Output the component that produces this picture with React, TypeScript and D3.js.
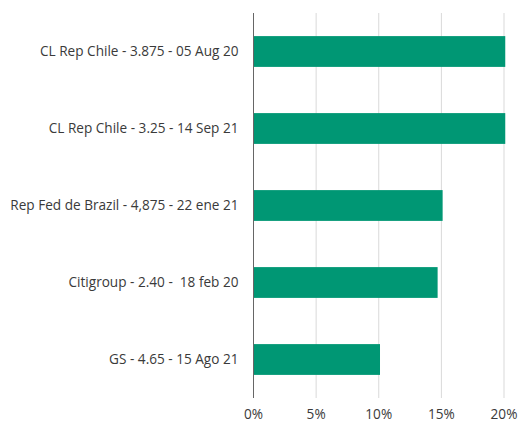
import * as d3 from "d3";

const labels = [
  "CL Rep Chile - 3.875 - 05 Aug 20",
  "CL Rep Chile - 3.25 - 14 Sep 21",
  "Rep Fed de Brazil - 4,875 - 22 ene 21",
  "Citigroup - 2.40 -  18 feb 20",
  "GS - 4.65 - 15 Ago 21",
];
const values = [20.1, 20.1, 15.1, 14.7, 10.1];
const ticks = [0, 5, 10, 15, 20];

const width = 519;
const height = 424;
const margin = { top: 13, right: 15, bottom: 26, left: 253.5 };
const font = "'Open Sans', sans-serif";

export default function App() {
  const x = d3.scaleLinear()
    .domain([0, 20])
    .range([margin.left, width - margin.right]);

  const y = d3.scaleBand()
    .domain(labels)
    .range([margin.top, height - margin.bottom])
    .paddingInner(0.6)
    .paddingOuter(0.3);

  return (
    <svg
      width={width}
      height={height}
      style={{ position: "absolute", left: 0, top: 0, background: "#fff" }}
    >
      {ticks.slice(1).map(t => (
        <line key={t} x1={x(t)} x2={x(t)} y1={margin.top} y2={height - margin.bottom}
          stroke="#d9d9d9" strokeWidth={1} />
      ))}
      {labels.map((l, i) => (
        <rect key={l} x={x(0)} y={y(l)} width={x(values[i]) - x(0)} height={y.bandwidth()}
          fill="#009774" />
      ))}
      <line x1={x(0)} x2={x(0)} y1={margin.top} y2={height - margin.bottom}
        stroke="#666" strokeWidth={1} />
      {labels.map(l => (
        <text key={l} x={margin.left - 15} y={(y(l) ?? 0) + y.bandwidth() / 2} dy="0.35em"
          textAnchor="end" fontFamily={font} fontSize={13.6} fill="#3a3a3a"
          style={{ whiteSpace: "pre" }}>
          {l}
        </text>
      ))}
      {ticks.map(t => (
        <text key={t} x={x(t)} y={height - 5} textAnchor="middle"
          fontFamily={font} fontSize={13.6} fill="#3a3a3a">
          {t + "%"}
        </text>
      ))}
    </svg>
  );
}
